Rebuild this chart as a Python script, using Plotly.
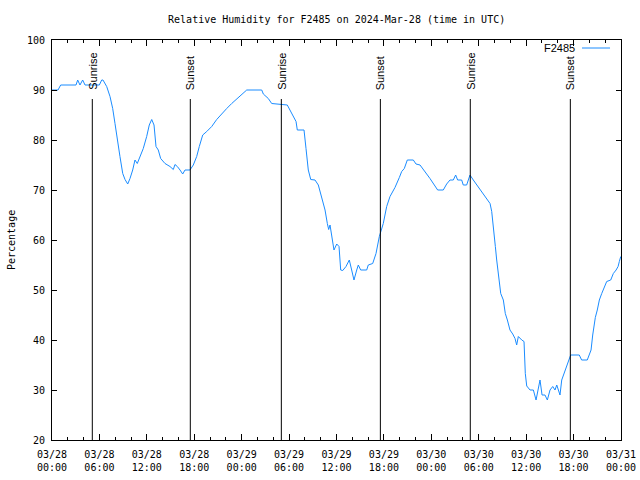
import plotly.graph_objects as go
import pandas as pd

# ---- data (hours since 2024-03-28 00:00 UTC, relative humidity %) ----
start = pd.Timestamp("2024-03-28 00:00")
hours = [0.0, 0.09, 0.76, 1.10, 3.04, 3.25, 3.54, 3.88, 4.18, 5.99, 6.29, 6.45, 6.92, 7.34, 7.68,
         7.97, 8.26, 8.60, 8.95, 9.24, 9.58, 9.87, 10.21, 10.50, 10.79, 11.14, 11.55, 11.98, 12.31,
         12.62, 12.91, 13.16, 13.45, 13.75, 14.30, 14.93, 15.35, 15.56, 15.86, 16.20, 16.54, 16.83,
         17.46, 17.88, 18.31, 18.64, 19.07, 19.58, 20.21, 20.84, 21.47, 22.11, 22.74, 23.37, 24.00,
         24.64, 26.54, 26.74, 27.37, 27.80, 29.77, 30.33, 30.88, 31.04, 31.89, 32.14, 32.43, 32.74,
         33.28, 33.70, 34.13, 34.55, 34.84, 35.01, 35.18, 35.39, 35.68, 36.03, 36.32, 36.53, 36.79,
         37.20, 37.62, 37.92, 38.21, 38.56, 38.76, 39.06, 39.82, 40.02, 40.58, 41.00, 41.42, 41.92,
         42.35, 42.77, 43.40, 43.95, 44.25, 44.58, 44.96, 45.72, 46.06, 46.57, 46.98, 47.41, 47.83,
         48.25, 48.80, 49.51, 49.94, 50.36, 50.78, 51.08, 51.33, 51.84, 52.04, 52.47, 52.89, 53.31,
         53.74, 54.16, 54.58, 55.01, 55.43, 55.64, 55.77, 55.93, 56.10, 56.27, 56.44, 56.60, 56.78,
         57.11, 57.36, 57.62, 57.95, 58.30, 58.59, 58.80, 59.01, 59.44, 59.73, 59.89, 60.07, 60.49,
         60.91, 61.25, 61.59, 61.75, 62.01, 62.38, 62.68, 63.02, 63.36, 63.65, 63.87, 64.07, 64.28,
         64.50, 64.79, 65.12, 65.45, 65.63, 66.72, 67.02, 67.73, 67.98, 68.21, 68.42, 68.58, 68.75,
         69.00, 69.26, 69.56, 69.85, 70.19, 70.70, 71.03, 71.38, 71.63, 71.79, 71.97]
humidity = [90, 90, 90, 91, 91, 92, 91, 92, 91, 91, 92, 92, 90.7, 88.7, 86.3,
            83.3, 80, 76.7, 73.3, 72.1, 71.2, 72.3, 74, 76, 75.3, 76.7, 78.3, 80.7, 83,
            84.1, 83, 78.7, 78, 76.3, 75.3, 74.7, 74.1, 75.1, 74.7, 74, 73.2, 74,
            74, 75, 76.7, 78.7, 81, 81.7, 82.7, 84.1, 85.3, 86.3, 87.3, 88.2, 89.2,
            90, 90, 89.2, 88.3, 87.3, 87, 85.3, 83.7, 82, 82, 78.3, 74, 72.1,
            72, 71, 68.7, 66, 63.3, 62.1, 63, 60.7, 58, 59.2, 58.7, 54, 53.9,
            54.7, 56, 54, 52, 54, 55, 54, 54, 55, 55.3, 57.3, 60.7, 63.3,
            66.7, 68.7, 70.5, 72.5, 73.7, 74.3, 76, 76, 75.2, 75, 74, 73.2, 72.3,
            71.3, 70, 70, 71.2, 72, 72, 73, 72, 72, 71, 71, 73, 72,
            71, 70, 69.2, 68.1, 67.3, 65.7, 64, 61.3, 58.7, 56, 54, 51.3, 49.3,
            48, 45.3, 44, 42, 41.2, 40.3, 39, 40.7, 40, 39.7, 33.3, 30.8, 30,
            30, 28, 30.3, 32, 29, 29, 28, 30, 30.7, 30, 31, 30, 29,
            32, 33.3, 34.5, 36, 37, 37, 36, 36, 37, 38, 41, 43, 44.5,
            46, 48, 49.3, 50.5, 51.7, 52, 53.3, 54, 54.7, 55.7, 56.7]

event_labels = ["Sunrise", "Sunset", "Sunrise", "Sunset", "Sunrise", "Sunset"]
event_hours = [5.10, 17.50, 29.02, 41.55, 52.93, 65.59]

series_name = "F2485"
title_text = "Relative Humidity for F2485 on 2024-Mar-28 (time in UTC)"
y_title = "Percentage"

times = [start + pd.Timedelta(hours=h) for h in hours]
event_times = [start + pd.Timedelta(hours=h) for h in event_hours]

line_color = "#1a8cff"
mono = "DejaVu Sans Mono"
sans = "Liberation Sans"

fig = go.Figure()
fig.add_trace(go.Scatter(x=times, y=humidity, mode="lines", name=series_name,
                         line=dict(color=line_color, width=1), showlegend=False))

for t, lab in zip(event_times, event_labels):
    fig.add_shape(type="line", xref="x", yref="paper", x0=t, x1=t, y0=0, y1=0.8525,
                  line=dict(color="black", width=1))
    fig.add_annotation(x=t, xref="x", y=0.87, yref="paper", text=lab, textangle=-90,
                       showarrow=False, xanchor="center", yanchor="bottom",
                       font=dict(family=sans, size=11, color="black"))

# legend (text followed by sample line, gnuplot style)
fig.add_annotation(x=0.922, y=0.98, xref="paper", yref="paper", text=series_name,
                   showarrow=False, xanchor="right", yanchor="middle",
                   font=dict(family=sans, size=11, color="black"))
fig.add_shape(type="line", xref="paper", yref="paper", x0=0.9315, x1=0.9807, y0=0.98, y1=0.98,
              line=dict(color=line_color, width=1))

# y axis title (placed like gnuplot's ylabel)
fig.add_annotation(x=-0.072, y=0.5, xref="paper", yref="paper", text=y_title, textangle=-90,
                   showarrow=False, xanchor="center", yanchor="middle",
                   font=dict(family=mono, size=10, color="black"))

fig.update_layout(
    width=640, height=480,
    margin=dict(l=52, r=19, t=40, b=40, autoexpand=False),
    paper_bgcolor="white", plot_bgcolor="white",
    title=dict(text=title_text, x=0.526, xanchor="center", y=0.96, yanchor="middle",
               font=dict(family=mono, size=10, color="black")),
    font=dict(family=mono, size=10, color="black"),
)
fig.update_xaxes(
    type="date", automargin=False,
    range=[start, start + pd.Timedelta(hours=72)],
    tick0=start, dtick=6 * 3600 * 1000,
    tickformat="%m/%d<br>%H:%M",
    ticks="inside", ticklen=6, tickcolor="black", tickwidth=1,
    ticklabelstandoff=5,
    minor=dict(dtick=2 * 3600 * 1000, ticks="inside", ticklen=3, tickcolor="black", tickwidth=1),
    showline=True, linecolor="black", linewidth=1, mirror="ticks",
    showgrid=False, zeroline=False,
    tickfont=dict(family=mono, size=10, color="black"),
)
fig.update_yaxes(
    range=[20, 100], dtick=10, tick0=20, automargin=False,
    ticks="inside", ticklen=5, tickcolor="black", tickwidth=1,
    ticklabelstandoff=4,
    showline=True, linecolor="black", linewidth=1, mirror="ticks",
    showgrid=False, zeroline=False,
    tickfont=dict(family=mono, size=10, color="black"),
)

fig.write_html("out.html")
